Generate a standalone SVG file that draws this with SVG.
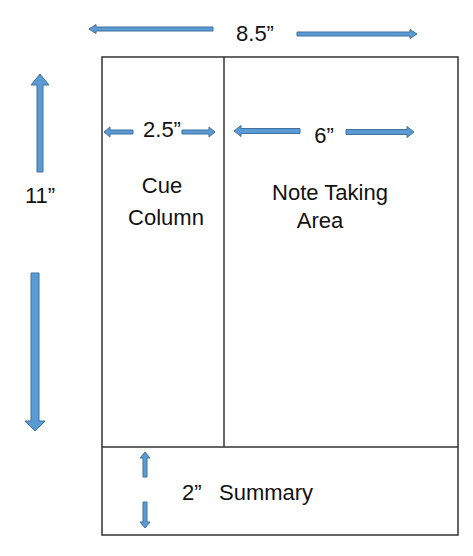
<svg xmlns="http://www.w3.org/2000/svg" width="473" height="556" viewBox="0 0 473 556">
<style>
.arrow{fill:#5B9BD5;stroke:#41719C;stroke-width:1}
.box{fill:none;stroke:#333;stroke-width:1.5}
text{font-family:"Liberation Sans",Arial,sans-serif;font-size:22px;fill:#111}
.m{text-anchor:middle}
</style>
<rect width="473" height="556" fill="#fff"/>
<g id="page">
<rect class="box" x="102" y="57" width="356" height="478"/>
</g>
<g id="cue-column">
<line class="box" x1="224" y1="57" x2="224" y2="447"/>
<text class="m" x="162" y="193">Cue</text>
<text class="m" x="166" y="225">Column</text>
</g>
<g id="note-taking-area">
<text class="m" x="330" y="200">Note Taking</text>
<text class="m" x="320" y="228">Area</text>
</g>
<g id="summary">
<line class="box" x1="102" y1="447" x2="458" y2="447"/>
<text x="182" y="500">2”</text>
<text x="219" y="500">Summary</text>
</g>
<g id="labels">
<text class="m" x="255" y="41">8.5”</text>
<text class="m" x="40" y="203">11”</text>
<text class="m" x="162" y="137">2.5”</text>
<text class="m" x="324" y="143">6”</text>
</g>
<g id="connectors">
<polygon class="arrow" points="89,29 96,24.5 96,27 213,27 213,31 96,31 96,33.5"/>
<polygon class="arrow" points="417,34 410,29.5 410,32 297,32 297,36 410,36 410,38.5"/>
<polygon class="arrow" points="104,132 110,127 110,130 133,130 133,134 110,134 110,137"/>
<polygon class="arrow" points="215,132 209,127 209,130 182,130 182,134 209,134 209,137"/>
<polygon class="arrow" points="234,131 241,125.5 241,128.5 300,128.5 300,133.5 241,133.5 241,136.5"/>
<polygon class="arrow" points="414,132 407,126.5 407,129.5 346,129.5 346,134.5 407,134.5 407,137.5"/>
<polygon class="arrow" points="40,74 49,85 43,85 43,172 37,172 37,85 31,85"/>
<polygon class="arrow" points="35,431 45,421 39,421 39,273 31,273 31,421 25,421"/>
<polygon class="arrow" points="145,452 150,458 147,458 147,477 143,477 143,458 140,458"/>
<polygon class="arrow" points="145,528 150,522 147,522 147,502 143,502 143,522 140,522"/>
</g>
</svg>
